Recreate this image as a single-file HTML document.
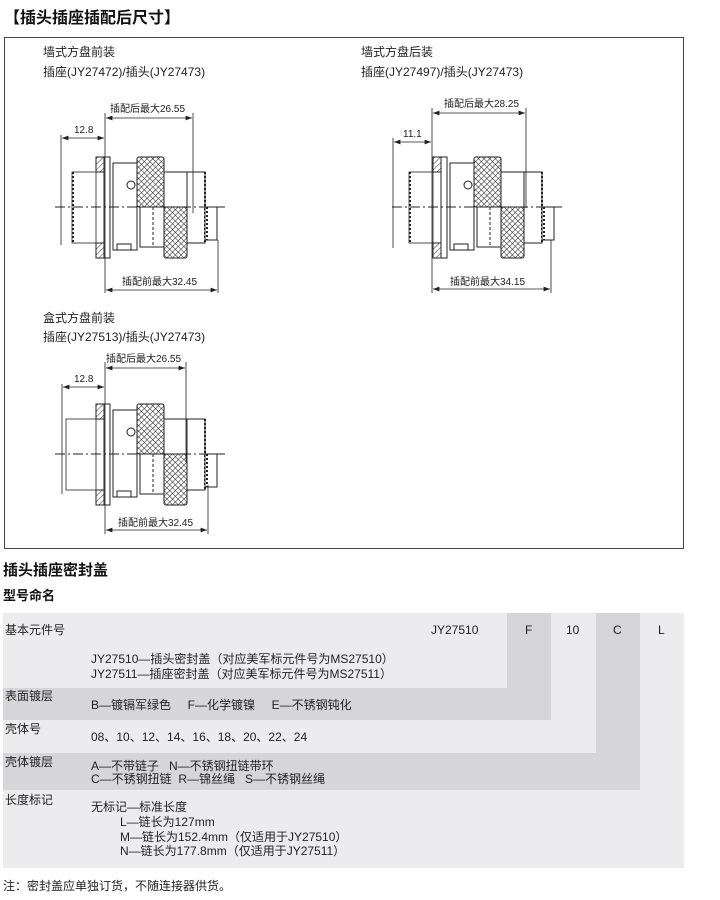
<!DOCTYPE html>
<html><head><meta charset="utf-8"><style>
html,body{margin:0;padding:0;background:#fff;width:720px;height:900px;overflow:hidden}
body{position:relative;font-family:"Liberation Sans","Noto Sans CJK SC",sans-serif;color:#222}
.t{position:absolute;white-space:nowrap;font-size:12px;line-height:14px}
.bg{position:absolute}
.l{background:#ececee}.d{background:#d6d6d8}
</style></head><body>
<div class="t" style="left:4px;top:9px;font-size:16px;line-height:20px;font-weight:bold;color:#111">【插头插座插配后尺寸】</div>
<div class="bg" style="left:4px;top:37px;width:678px;height:510px;border:1.5px solid #444"></div>
<div class="t" style="left:43px;top:45px">墙式方盘前装</div>
<div class="t" style="left:43px;top:65px">插座(JY27472)/插头(JY27473)</div>
<div class="t" style="left:361px;top:45px">墙式方盘后装</div>
<div class="t" style="left:361px;top:65px">插座(JY27497)/插头(JY27473)</div>
<div class="t" style="left:43px;top:311px">盒式方盘前装</div>
<div class="t" style="left:43px;top:330px">插座(JY27513)/插头(JY27473)</div>

<svg style="position:absolute;left:0;top:0" width="720" height="560" viewBox="0 0 720 560">
<defs>
<pattern id="h" width="4" height="4" patternUnits="userSpaceOnUse" patternTransform="rotate(45)"><line x1="0" y1="0" x2="0" y2="4" stroke="#333" stroke-width="1"/></pattern>
<pattern id="k" width="4" height="4" patternUnits="userSpaceOnUse" patternTransform="rotate(45)"><path d="M0 0H4M0 0V4" stroke="#222" stroke-width="1.1" fill="none"/></pattern>
<marker id="a" markerWidth="8" markerHeight="6" refX="8" refY="3" orient="auto-start-reverse"><path d="M0 0L8 3L0 6z" fill="#222"/></marker>
<g id="base" stroke="#222" stroke-width="1" fill="#fff">
<rect x="96" y="157" width="8" height="15" fill="url(#h)"/>
<rect x="96" y="243" width="8" height="15" fill="url(#h)"/>
<rect x="104" y="157" width="6" height="101"/>
<rect x="113" y="163" width="24" height="87"/>
<rect x="117" y="244" width="14" height="6"/>
<rect x="137" y="157" width="27" height="50" rx="2" fill="url(#k)"/>
<rect x="140" y="207" width="24" height="40"/>
<path d="M153 207v38" stroke-dasharray="3 2"/>
<circle cx="131" cy="185" r="4"/>
<rect x="164" y="172" width="23" height="35"/>
<rect x="164" y="207" width="23" height="51" rx="2" fill="url(#k)"/>
<rect x="187" y="172" width="18" height="71"/>
<path d="M205 172v71" stroke-dasharray="2 2" stroke-width="2"/>
<rect x="205" y="207" width="12" height="33"/>
<path d="M207 207v33" stroke-dasharray="2 2" stroke-width="2"/>
<path d="M55 207H225" stroke-dasharray="10 3 2 3"/>
</g>
<g id="c">
<rect x="72" y="172" width="24" height="71" stroke="#222" fill="#fff"/>
<path d="M73 172v71" stroke="#222" stroke-dasharray="2 2" stroke-width="2"/>
<use href="#base"/>
</g>
<g id="c3">
<rect x="66" y="172" width="30" height="71" stroke="#222" fill="#fff"/>
<use href="#base"/>
</g>
</defs>
<g font-size="10" fill="#222" font-family="Liberation Sans,Noto Sans CJK SC,sans-serif" stroke-width="0.8">
<use href="#c"/>
<g stroke="#222" fill="none">
<path d="M61 135v110M105 113v180M193 113v100M218 240v53"/>
<path d="M106 118H192" marker-start="url(#a)" marker-end="url(#a)"/>
<path d="M62 138H104" marker-start="url(#a)" marker-end="url(#a)"/>
<path d="M106 290H217" marker-start="url(#a)" marker-end="url(#a)"/>
</g>
<text x="110" y="112" stroke="none">插配后最大26.55</text>
<text x="74" y="133" stroke="none">12.8</text>
<text x="122" y="285" stroke="none">插配前最大32.45</text>
<use href="#c" transform="translate(337,0)"/>
<g stroke="#222" fill="none">
<path d="M393 138v110M432 108v185M526 108v100M551 240v53"/>
<path d="M433 113H525" marker-start="url(#a)" marker-end="url(#a)"/>
<path d="M394 142H431" marker-start="url(#a)" marker-end="url(#a)"/>
<path d="M433 289H550" marker-start="url(#a)" marker-end="url(#a)"/>
</g>
<text x="444" y="107" stroke="none">插配后最大28.25</text>
<text x="403" y="137" stroke="none">11.1</text>
<text x="450" y="285" stroke="none">插配前最大34.15</text>
<use href="#c3" transform="translate(0,247)"/>
<g stroke="#222" fill="none">
<path d="M62 384v110M105 362v172M186 362v100M208 485v49"/>
<path d="M106 368H185" marker-start="url(#a)" marker-end="url(#a)"/>
<path d="M63 387H104" marker-start="url(#a)" marker-end="url(#a)"/>
<path d="M106 530H207" marker-start="url(#a)" marker-end="url(#a)"/>
</g>
<text x="106" y="362" stroke="none">插配后最大26.55</text>
<text x="74" y="382" stroke="none">12.8</text>
<text x="118" y="526" stroke="none">插配前最大32.45</text>
</g>
</svg>

<div class="t" style="left:3px;top:562px;font-size:15px;line-height:18px;font-weight:bold;color:#111">插头插座密封盖</div>
<div class="t" style="left:3px;top:588px;font-size:13px;line-height:15px;font-weight:bold;color:#111">型号命名</div>

<div class="bg l" style="left:640px;top:613px;width:44px;height:255px"></div>
<div class="bg l" style="left:3px;top:790px;width:681px;height:78px"></div>
<div class="bg d" style="left:596px;top:613px;width:44px;height:177px"></div>
<div class="bg d" style="left:3px;top:753px;width:637px;height:37px"></div>
<div class="bg l" style="left:551px;top:613px;width:45px;height:140px"></div>
<div class="bg l" style="left:3px;top:720px;width:593px;height:33px"></div>
<div class="bg d" style="left:507px;top:613px;width:44px;height:107px"></div>
<div class="bg d" style="left:3px;top:688px;width:548px;height:32px"></div>
<div class="bg l" style="left:3px;top:613px;width:504px;height:75px"></div>

<div class="t" style="left:5px;top:623px">基本元件号</div>
<div class="t" style="left:431px;top:623px">JY27510</div>
<div class="t" style="left:525px;top:623px">F</div>
<div class="t" style="left:566px;top:623px">10</div>
<div class="t" style="left:613px;top:623px">C</div>
<div class="t" style="left:658px;top:623px">L</div>
<div class="t" style="left:91px;top:652px">JY27510—插头密封盖（对应美军标元件号为MS27510）</div>
<div class="t" style="left:91px;top:667px">JY27511—插座密封盖（对应美军标元件号为MS27511）</div>
<div class="t" style="left:5px;top:689px">表面镀层</div>
<div class="t" style="left:91px;top:698px">B—镀镉军绿色 &nbsp; &nbsp; F—化学镀镍 &nbsp; &nbsp; E—不锈钢钝化</div>
<div class="t" style="left:5px;top:722px">壳体号</div>
<div class="t" style="left:91px;top:730px">08、10、12、14、16、18、20、22、24</div>
<div class="t" style="left:5px;top:755px">壳体镀层</div>
<div class="t" style="left:91px;top:759px">A—不带链子 &nbsp; N—不锈钢扭链带环</div>
<div class="t" style="left:91px;top:772px">C—不锈钢扭链 &nbsp;R—锦丝绳 &nbsp; S—不锈钢丝绳</div>
<div class="t" style="left:5px;top:793px">长度标记</div>
<div class="t" style="left:91px;top:800px">无标记—标准长度</div>
<div class="t" style="left:120px;top:815px">L—链长为127mm</div>
<div class="t" style="left:120px;top:830px">M—链长为152.4mm（仅适用于JY27510）</div>
<div class="t" style="left:120px;top:844px">N—链长为177.8mm（仅适用于JY27511）</div>
<div class="t" style="left:3px;top:879px">注：密封盖应单独订货，不随连接器供货。</div>
</body></html>
